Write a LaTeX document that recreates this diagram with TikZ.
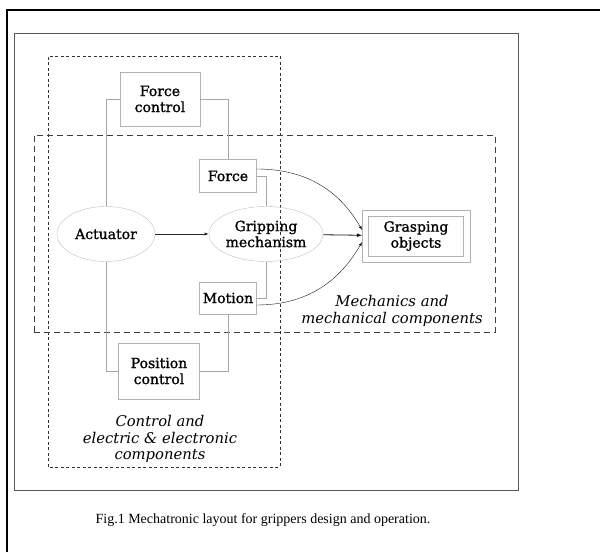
\documentclass[tikz,border=0pt]{standalone}
\usepackage{fontspec}
\setmainfont{DejaVu Serif}
\newfontfamily\boxfont[FakeBold=1.2]{DejaVu Serif}
\newfontfamily\capfont{Liberation Serif}
\usetikzlibrary{shapes.geometric,fit}

\begin{document}
\begin{tikzpicture}[
      x=1pt, y=1pt, >=latex,
      blk/.style={draw=gray!60, align=center, inner sep=2pt, font=\boxfont\fontsize{14}{16}\selectfont},
      oval/.style={ellipse, draw=gray!50, align=center, minimum width=98pt, minimum height=55pt, inner sep=0pt, font=\boxfont\fontsize{14}{16}\selectfont},
      link/.style={draw=gray!70, line width=0.5pt},
      zone/.style={align=center, font=\fontsize{14.8}{16.5}\selectfont\itshape}
    ]
      \useasboundingbox (0,0) rectangle (600,552);
      \draw[line width=2pt] (7,0) -- (7,542) -- (600,542);
      \draw[gray!70!black, line width=0.8pt] (14,62) rectangle (518,519);
      \draw[gray!40!black, line width=0.7pt, dash pattern=on 3pt off 2.5pt] (48,85) rectangle (280,496);
      \draw[gray!50!black, line width=0.8pt, dash pattern=on 6pt off 4pt] (34,220) rectangle (495,417);

      \node[blk, minimum width=80pt, minimum height=54pt] (forcectl) at (160,453) {Force\\control};
      \node[blk, minimum width=57pt, minimum height=33pt] (force) at (228,376) {Force};
      \node[oval] (actuator) at (106,318) {Actuator};
      \node[oval] (gripping) at (266,318) {Gripping\\mechanism};
      \node[blk, minimum width=95pt, minimum height=40pt] (grasp) at (416,316) {Grasping\\objects};
      \node[draw=gray!60, fit=(grasp), inner sep=6pt] (graspframe) {};
      \node[blk, minimum width=57pt, minimum height=32pt] (motion) at (228,254) {Motion};
      \node[blk, minimum width=81pt, minimum height=56pt] (posctl) at (159,181) {Position\\control};

      \node[zone] (mechlabel) at (392,241) {Mechanics and\\mechanical components};
      \node[zone] (ctrllabel) at (160,113) {Control and\\electric \& electronic\\components};
      \node[font=\capfont\fontsize{14}{16}\selectfont] (caption) at (263,32) {Fig.1 Mechatronic layout for grippers design and operation.};

      \draw[link] (actuator.north) |- (forcectl.west);
      \draw[link] (forcectl.east) -| (force.north);
      \draw[link] (force.east) -| (gripping.north);
      \draw[link] (gripping.south) |- (motion.east);
      \draw[link] (motion.south) |- (posctl.east);
      \draw[link] (posctl.west) -| (actuator.south);

      \draw[->, gray!30!black] (actuator) -- (gripping);
      \draw[->, thick, gray!20!black] (gripping) -- (graspframe);
      \draw[->, gray!20!black] ([yshift=7pt]force.east) to[out=0, in=120] ([yshift=6pt]graspframe.west);
      \draw[->, gray!20!black] ([yshift=-7pt]motion.east) to[out=0, in=240] ([yshift=-6pt]graspframe.west);
    \end{tikzpicture}
\end{document}
